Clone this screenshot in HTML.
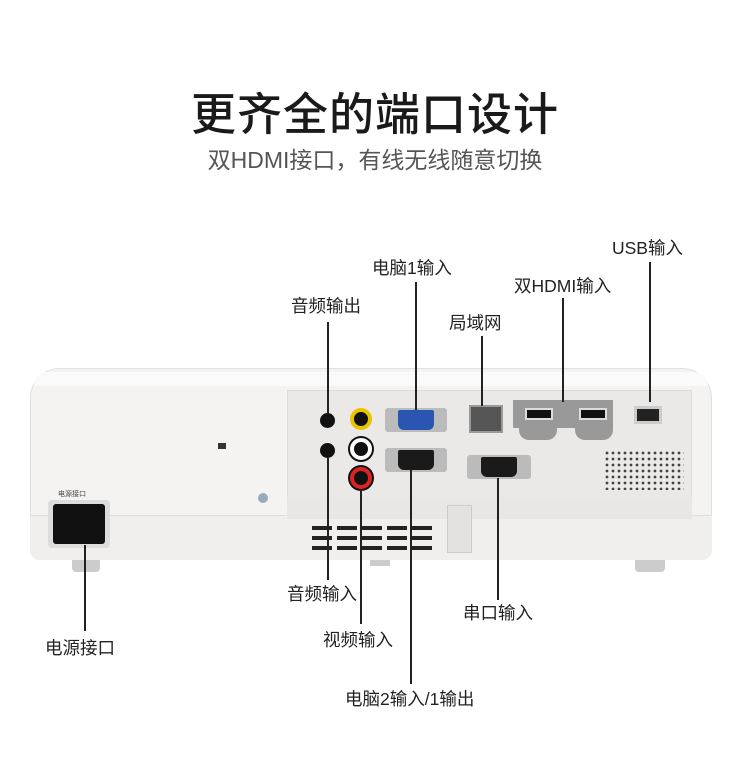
<!DOCTYPE html>
<html><head><meta charset="utf-8"><style>
*{margin:0;padding:0;box-sizing:border-box}
body{width:750px;height:765px;background:#fff;position:relative;overflow:hidden;font-family:"Liberation Sans","Noto Sans CJK SC",sans-serif;color:#222}
.a{position:absolute}
.l{position:absolute;font-size:17.5px;color:#222;white-space:nowrap;line-height:1}
.v{position:absolute;width:2px;background:#222}
.h{position:absolute;border-radius:50%}
</style></head><body>
<div class="a" style="left:0;top:92px;width:750px;text-align:center;font-size:45px;font-weight:500;line-height:1;color:#1a1a1a;letter-spacing:1px">更齐全的端口设计</div>
<div class="a" style="left:0;top:149px;width:750px;text-align:center;font-size:23px;line-height:1;color:#555">双HDMI接口，有线无线随意切换</div>

<div class="a" style="left:30px;top:368px;width:682px;height:192px;background:#f5f3f1;border-radius:30px 30px 10px 10px;border:1px solid #e2e0de"></div>
<div class="a" style="left:34px;top:372px;width:674px;height:14px;background:#fafafa;border-radius:26px 26px 0 0"></div>
<div class="a" style="left:30px;top:515px;width:682px;height:45px;background:#f1efed;border-radius:0 0 10px 10px;border-top:1px solid #ddd"></div>
<div class="a" style="left:287px;top:390px;width:405px;height:108px;background:#ebe9e7;border:1px solid #ddd"></div>
<div class="a" style="left:287px;top:497px;width:405px;height:22px;background:#e9e7e5"></div>
<div class="a" style="left:447px;top:505px;width:25px;height:48px;background:#e4e2e0;border:1px solid #ccc"></div>
<div class="a" style="left:72px;top:560px;width:28px;height:12px;background:#ccc;border-radius:0 0 4px 4px"></div>
<div class="a" style="left:635px;top:560px;width:30px;height:12px;background:#ccc;border-radius:0 0 4px 4px"></div>
<div class="a" style="left:370px;top:560px;width:20px;height:6px;background:#ccc"></div>
<div class="a" style="left:48px;top:500px;width:62px;height:48px;background:#ddd;border-radius:4px"></div>
<div class="a" style="left:53px;top:504px;width:52px;height:40px;background:#111;border-radius:3px"></div>
<div class="a" style="left:58px;top:489px;font-size:7px;color:#444">电源接口</div>
<div class="a" style="left:218px;top:443px;width:8px;height:6px;background:#333"></div>
<div class="h" style="left:258px;top:493px;width:10px;height:10px;background:#9ab"></div>
<div class="a" style="left:312px;top:526px;width:120px;height:28px;background:repeating-linear-gradient(#222 0 4px,transparent 4px 10px);-webkit-mask:repeating-linear-gradient(90deg,#000 0 20px,transparent 20px 25px)"></div>
<div class="h" style="left:320px;top:413px;width:15px;height:15px;background:#111"></div>
<div class="h" style="left:320px;top:443px;width:15px;height:15px;background:#111"></div>
<div class="h" style="left:350px;top:408px;width:22px;height:22px;background:#111;border:4px solid #e8c400"></div>
<div class="h" style="left:350px;top:438px;width:22px;height:22px;background:#111;border:4px solid #fff;box-shadow:0 0 0 2px #111"></div>
<div class="h" style="left:350px;top:467px;width:22px;height:22px;background:#111;border:4px solid #d22;box-shadow:0 0 0 2px #111"></div>
<div class="a" style="left:385px;top:408px;width:62px;height:24px;background:#bbb;border-radius:3px"></div>
<div class="a" style="left:398px;top:410px;width:36px;height:20px;background:#2a55b0;border-radius:2px 2px 6px 6px"></div>
<div class="a" style="left:385px;top:448px;width:62px;height:24px;background:#bbb;border-radius:3px"></div>
<div class="a" style="left:398px;top:450px;width:36px;height:20px;background:#1a1a1a;border-radius:2px 2px 6px 6px"></div>
<div class="a" style="left:467px;top:455px;width:64px;height:24px;background:#bbb;border-radius:3px"></div>
<div class="a" style="left:481px;top:457px;width:36px;height:20px;background:#1a1a1a;border-radius:2px 2px 6px 6px"></div>
<div class="a" style="left:469px;top:405px;width:34px;height:28px;background:#555;border:2px solid #999"></div>
<div class="a" style="left:513px;top:400px;width:100px;height:28px;background:#999"></div>
<div class="a" style="left:519px;top:420px;width:38px;height:20px;background:#999;border-radius:0 0 10px 10px"></div>
<div class="a" style="left:575px;top:420px;width:38px;height:20px;background:#999;border-radius:0 0 10px 10px"></div>
<div class="a" style="left:525px;top:408px;width:28px;height:12px;background:#111;border:2px solid #ddd"></div>
<div class="a" style="left:579px;top:408px;width:28px;height:12px;background:#111;border:2px solid #ddd"></div>
<div class="a" style="left:634px;top:406px;width:28px;height:18px;background:#222;border:3px solid #ccc"></div>
<div class="a" style="left:604px;top:450px;width:80px;height:40px;background:radial-gradient(circle,#444 1.2px,transparent 1.6px) 0 0/6px 6px"></div>
<div class="v" style="left:327px;top:322px;height:92px"></div>
<div class="v" style="left:327px;top:458px;height:122px"></div>
<div class="v" style="left:360px;top:490px;height:134px"></div>
<div class="v" style="left:415px;top:282px;height:128px"></div>
<div class="v" style="left:410px;top:470px;height:214px"></div>
<div class="v" style="left:481px;top:336px;height:70px"></div>
<div class="v" style="left:562px;top:298px;height:104px"></div>
<div class="v" style="left:649px;top:262px;height:140px"></div>
<div class="v" style="left:497px;top:478px;height:122px"></div>
<div class="v" style="left:84px;top:545px;height:86px"></div>
<div class="l" style="left:612px;top:240px">USB输入</div>
<div class="l" style="left:372px;top:260px">电脑1输入</div>
<div class="l" style="left:514px;top:278px">双HDMI输入</div>
<div class="l" style="left:291px;top:298px">音频输出</div>
<div class="l" style="left:449px;top:315px">局域网</div>
<div class="l" style="left:287px;top:586px">音频输入</div>
<div class="l" style="left:463px;top:605px">串口输入</div>
<div class="l" style="left:323px;top:632px">视频输入</div>
<div class="l" style="left:45px;top:640px">电源接口</div>
<div class="l" style="left:345px;top:691px">电脑2输入/1输出</div>
</body></html>
